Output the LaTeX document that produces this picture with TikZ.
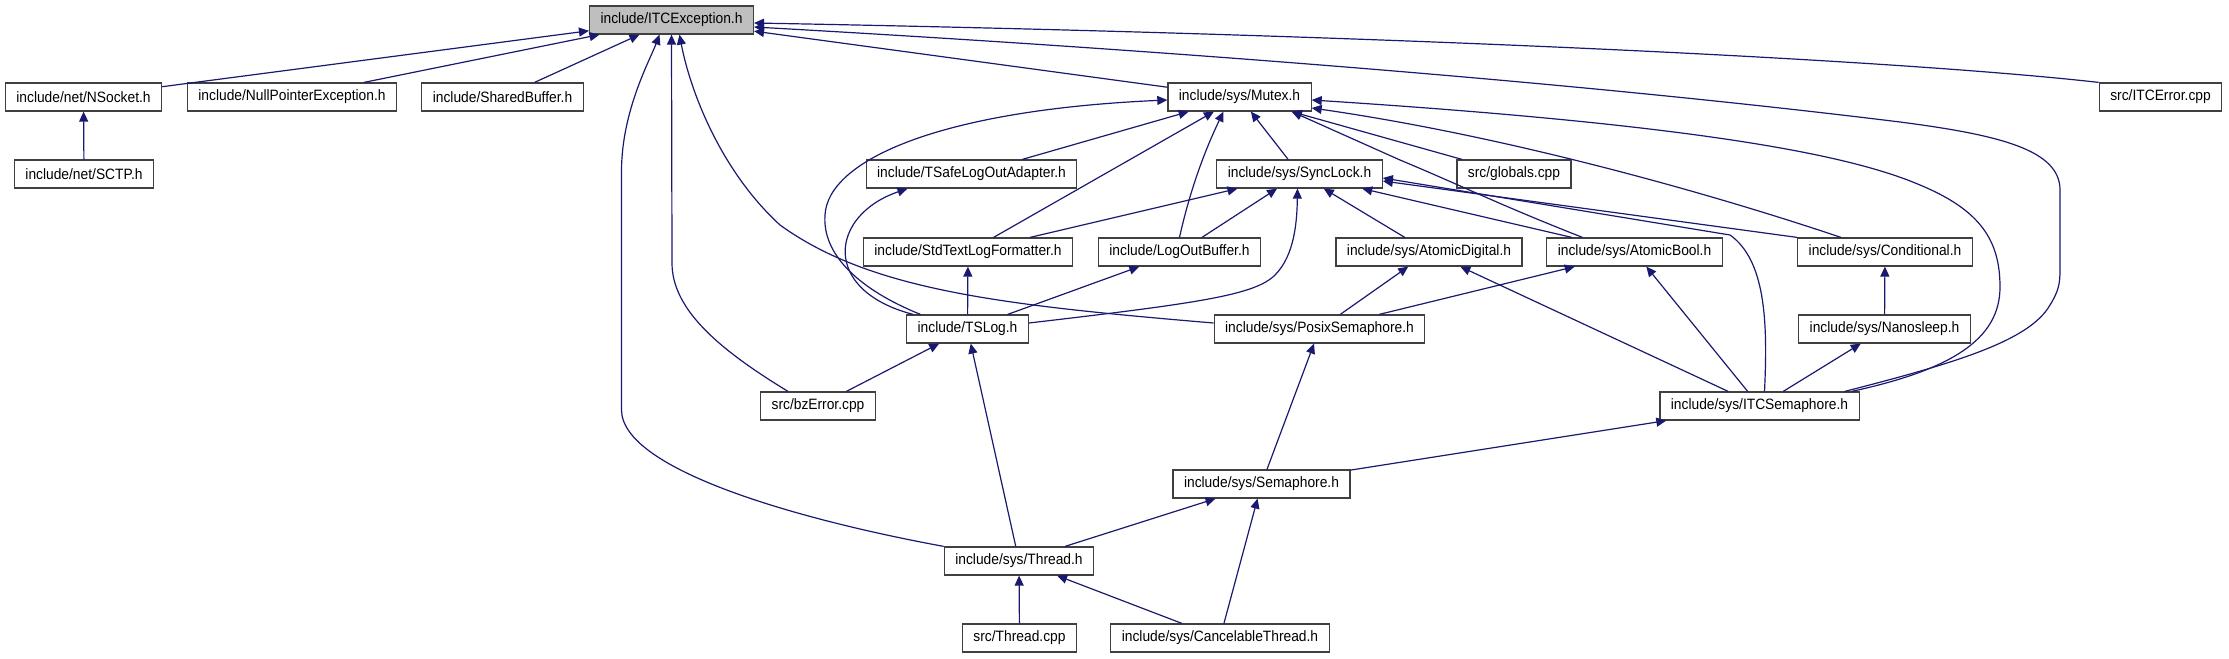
\documentclass[tikz,border=0pt]{standalone}
\usepackage{fontspec}
\setmainfont{Liberation Sans}[FakeStretch=0.92]
\usetikzlibrary{arrows.meta}

\definecolor{edgeblue}{HTML}{191970}
\definecolor{boxgray}{HTML}{BFBFBF}

\begin{document}
\begin{tikzpicture}[
    x=0.5pt, y=-0.5pt,
    >={Triangle[length=5pt, width=4.5pt]},
    file/.style={draw=black!75, fill=white, line width=0.6pt, inner xsep=5.5pt, inner ysep=0pt, minimum height=14pt, text=black, font=\fontsize{7.5}{9}\selectfont},
    mainfile/.style={file, fill=boxgray},
    inc/.style={->, draw=edgeblue, line width=0.6pt}
]

\useasboundingbox (0,0) rectangle (2229,659);

% Files
\node[mainfile] (ITCException) at (671.5,20) {include/ITCException.h};

\node[file] (NSocket) at (83.5,97) {include/net/NSocket.h};
\node[file] (NullPointerException) at (292,97) {include/NullPointerException.h};
\node[file] (SharedBuffer) at (502.5,97) {include/SharedBuffer.h};
\node[file] (Mutex) at (1239.5,97) {include/sys/Mutex.h};
\node[file] (ITCError) at (2160.5,97) {src/ITCError.cpp};

\node[file] (SCTP) at (84,174) {include/net/SCTP.h};
\node[file] (TSafeLogOutAdapter) at (971.5,174) {include/TSafeLogOutAdapter.h};
\node[file] (SyncLock) at (1299.5,174) {include/sys/SyncLock.h};
\node[file] (globals) at (1514,174) {src/globals.cpp};

\node[file] (StdTextLogFormatter) at (968,252) {include/StdTextLogFormatter.h};
\node[file] (LogOutBuffer) at (1179.5,252) {include/LogOutBuffer.h};
\node[file] (AtomicDigital) at (1429,252) {include/sys/AtomicDigital.h};
\node[file] (AtomicBool) at (1634.5,252) {include/sys/AtomicBool.h};
\node[file] (Conditional) at (1885,252) {include/sys/Conditional.h};

\node[file] (TSLog) at (967.5,329) {include/TSLog.h};
\node[file] (PosixSemaphore) at (1319.5,329) {include/sys/PosixSemaphore.h};
\node[file] (Nanosleep) at (1884.5,329) {include/sys/Nanosleep.h};

\node[file] (bzError) at (818,406) {src/bzError.cpp};
\node[file] (ITCSemaphore) at (1759.5,406) {include/sys/ITCSemaphore.h};

\node[file] (Semaphore) at (1261.5,484) {include/sys/Semaphore.h};
\node[file] (Thread) at (1019,561) {include/sys/Thread.h};
\node[file] (ThreadCpp) at (1019.5,638) {src/Thread.cpp};
\node[file] (CancelableThread) at (1220,638) {include/sys/CancelableThread.h};

% Includes of ITCException.h
\draw[inc] (NSocket) -- (ITCException);
\draw[inc] (NullPointerException) -- (ITCException);
\draw[inc] (SharedBuffer) -- (ITCException);
\draw[inc] (Mutex) -- (ITCException);
\draw[inc] (ITCError.north west) .. controls (1900,60) and (1400,35) .. ([yshift=-1.5pt]ITCException.east);
\draw[inc] (ITCSemaphore.north east) ++(-15,0) .. controls (1960,362) and (2030,340) .. (2050,305)
    .. controls (2058,292) and (2060,285) .. (2060,270) -- (2060,190)
    .. controls (2060,150) and (2000,135) .. (1900,122)
    .. controls (1600,85) and (1200,52) .. ([yshift=-3.5pt]ITCException.east);
\draw[inc] ([xshift=-15pt]bzError.north) .. controls (720,350) and (672,310) .. (672,263) -- (ITCException.south);
\draw[inc] (Thread.north west) .. controls (800,520) and (622,470) .. (621.5,410) -- (621.5,170)
    .. controls (622,110) and (650,60) .. ([xshift=-6pt]ITCException.south);
\draw[inc] ([yshift=3pt]PosixSemaphore.west) .. controls (1000,305) and (870,290) .. (780,225)
    .. controls (720,170) and (690,90) .. ([xshift=4pt]ITCException.south);

\draw[inc] (SCTP) -- (NSocket);

% Includes of Mutex.h
\draw[inc] ([xshift=-23.5pt]TSLog.north) .. controls (860,290) and (822,255) .. (825,215)
    .. controls (828,160) and (940,110) .. ([yshift=-1.5pt]Mutex.west);
\draw[inc] (TSafeLogOutAdapter) -- (Mutex);
\draw[inc] (StdTextLogFormatter) -- (Mutex);
\draw[inc] (LogOutBuffer.north) .. controls (1190,190) and (1205,150) .. ([xshift=-8pt]Mutex.south);
\draw[inc] (SyncLock) -- (Mutex);
\draw[inc] (globals) -- (Mutex);
\draw[inc] ([xshift=-26pt]AtomicBool.north) .. controls (1500,205) and (1460,185) .. (1400,160) -- ([xshift=-10pt]Mutex.south east);
\draw[inc] ([xshift=-22pt]Conditional.north) .. controls (1700,190) and (1500,135) .. ([yshift=-5.5pt]Mutex.east);
\draw[inc] (ITCSemaphore.north east) ++(-8,0) .. controls (1950,370) and (2000,340) .. (2000,287)
    .. controls (2000,240) and (1980,210) .. (1920,185)
    .. controls (1850,155) and (1700,125) .. ([yshift=-1.5pt]Mutex.east);

% Includes of SyncLock.h
\draw[inc] (StdTextLogFormatter) -- (SyncLock);
\draw[inc] (LogOutBuffer) -- (SyncLock);
\draw[inc] ([yshift=3pt]TSLog.east) .. controls (1200,303) and (1255,295) .. (1275,275)
    .. controls (1295,255) and (1297,220) .. ([xshift=-1pt]SyncLock.south);
\draw[inc] (AtomicDigital) -- (SyncLock);
\draw[inc] (AtomicBool) -- (SyncLock);
\draw[inc] (Conditional.north west) -- ([yshift=-3.5pt]SyncLock.east);
\draw[inc] ([xshift=2.5pt]ITCSemaphore.north) .. controls (1768,320) and (1765,260) .. (1730,235) -- ([yshift=-2pt]SyncLock.east);

% Logging
\draw[inc] (TSLog.north west) ++(7,0) .. controls (820,290) and (830,215) .. ([xshift=-32pt]TSafeLogOutAdapter.south);
\draw[inc] (TSLog) -- (StdTextLogFormatter);
\draw[inc] (TSLog) -- (LogOutBuffer);
\draw[inc] (bzError) -- (TSLog);
\draw[inc] (Thread) -- (TSLog);

% Semaphores
\draw[inc] (PosixSemaphore) -- (AtomicDigital);
\draw[inc] (PosixSemaphore) -- (AtomicBool);
\draw[inc] (ITCSemaphore) -- (AtomicDigital);
\draw[inc] (ITCSemaphore) -- (AtomicBool);
\draw[inc] (ITCSemaphore) -- (Nanosleep);
\draw[inc] (Nanosleep) -- (Conditional);
\draw[inc] (Semaphore) -- (PosixSemaphore);
\draw[inc] (Semaphore) -- (ITCSemaphore);

% Threads
\draw[inc] (Thread) -- (Semaphore);
\draw[inc] (CancelableThread) -- (Semaphore);
\draw[inc] (ThreadCpp) -- (Thread);
\draw[inc] (CancelableThread) -- (Thread);

\end{tikzpicture}
\end{document}
